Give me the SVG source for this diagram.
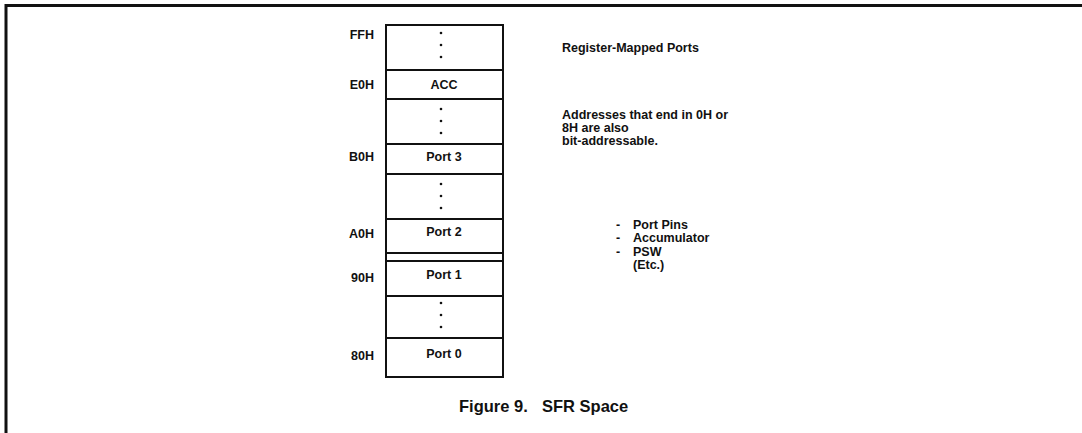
<svg xmlns="http://www.w3.org/2000/svg" width="1082" height="433" viewBox="0 0 1082 433">
<style>
.t{font-family:"Liberation Sans",Arial,sans-serif;font-weight:bold;font-size:12.5px;fill:#111}
.a{text-anchor:end}
.c{text-anchor:middle}
.cap{font-size:16.5px}
.ln{stroke:#111;stroke-width:2;fill:none}
.d{fill:#111}
</style>
<rect width="1082" height="433" fill="#fff"/>
<g id="frame">
<path d="M5,5.5 H1082 M6,4 V433" stroke="#111" stroke-width="3" fill="none"/>
</g>
<g id="memory">
<rect class="ln" x="386" y="25" width="117" height="352"/>
<path class="ln" d="M386,70 H503 M386,99 H503 M386,144 H503 M386,174 H503 M386,219 H503 M386,253 H503 M386,261 H503 M386,296 H503 M386,338 H503"/>
<g class="d">
<circle cx="441" cy="33" r="1.3"/><circle cx="441" cy="45" r="1.3"/><circle cx="441" cy="57" r="1.3"/>
<circle cx="441" cy="109" r="1.3"/><circle cx="441" cy="121" r="1.3"/><circle cx="441" cy="133" r="1.3"/>
<circle cx="441" cy="184" r="1.3"/><circle cx="441" cy="196" r="1.3"/><circle cx="441" cy="208" r="1.3"/>
<circle cx="441" cy="303" r="1.3"/><circle cx="441" cy="315" r="1.3"/><circle cx="441" cy="327" r="1.3"/>
</g>
<text class="t c" x="444" y="89">ACC</text>
<text class="t c" x="444" y="161">Port 3</text>
<text class="t c" x="444" y="236">Port 2</text>
<text class="t c" x="444" y="279">Port 1</text>
<text class="t c" x="444" y="358">Port 0</text>
</g>
<g id="addresses">
<text class="t a" x="374" y="39">FFH</text>
<text class="t a" x="374" y="89">E0H</text>
<text class="t a" x="374" y="161">B0H</text>
<text class="t a" x="374" y="238">A0H</text>
<text class="t a" x="374" y="282">90H</text>
<text class="t a" x="374" y="360">80H</text>
</g>
<g id="notes">
<text class="t" x="562" y="52">Register-Mapped Ports</text>
<text class="t" x="562" y="119">Addresses that end in 0H or</text>
<text class="t" x="562" y="132">8H are also</text>
<text class="t" x="562" y="145">bit-addressable.</text>
<text class="t" x="616" y="229">-</text><text class="t" x="633" y="229">Port Pins</text>
<text class="t" x="616" y="242">-</text><text class="t" x="633" y="242">Accumulator</text>
<text class="t" x="616" y="256">-</text><text class="t" x="633" y="256">PSW</text>
<text class="t" x="633" y="269">(Etc.)</text>
</g>
<g id="caption">
<text class="t cap" x="459" y="412">Figure 9.</text>
<text class="t cap" x="542" y="412">SFR Space</text>
</g>
</svg>
